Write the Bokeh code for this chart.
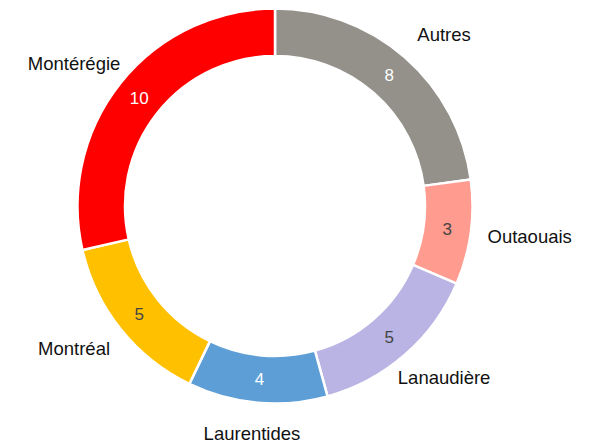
import numpy as np
from bokeh.plotting import figure
from bokeh.models import ColumnDataSource, Range1d
from bokeh.core.properties import value
from bokeh.embed import file_html
from bokeh.resources import INLINE

# ---- data (clockwise from 12 o'clock) ----
regions = ["Autres", "Outaouais", "Lanaudière", "Laurentides", "Montréal", "Montérégie"]
counts = [8, 3, 5, 4, 5, 10]
colors = ["#93918A", "#FF9B8F", "#B9B4E3", "#5C9ED5", "#FFC000", "#FF0000"]
value_colors = ["#FFFFFF", "#444444", "#444444", "#FFFFFF", "#444444", "#FFFFFF"]

# ---- layout ----
W, H = 592, 445
cx, cy = 274.5, H - 205.5
R_out, R_in = 197.5, 150.0
R_val = (R_out + R_in) / 2
lab_a, lab_b = 257.0, 228.0

vals = np.array(counts, dtype=float)
total = vals.sum()
cum = np.concatenate([[0], np.cumsum(vals)])
cw_start = cum[:-1] / total * 2 * np.pi
cw_end = cum[1:] / total * 2 * np.pi
cw_mid = (cw_start + cw_end) / 2

start_angle = np.pi / 2 - cw_end
end_angle = np.pi / 2 - cw_start

src = ColumnDataSource(dict(
    region=regions, count=[str(c) for c in counts], color=colors, vcolor=value_colors,
    start=start_angle, end=end_angle,
    vx=cx + R_val * np.sin(cw_mid), vy=cy + R_val * np.cos(cw_mid),
    lx=cx + lab_a * np.sin(cw_mid), ly=cy + lab_b * np.cos(cw_mid),
))

p = figure(width=W, height=H, output_backend="svg", toolbar_location=None,
           x_range=Range1d(0, W), y_range=Range1d(0, H), min_border=0,
           background_fill_color="white", border_fill_color="white")
p.axis.visible = False
p.grid.visible = False
p.outline_line_color = None

p.annular_wedge(x=cx, y=cy, inner_radius=R_in, outer_radius=R_out,
                start_angle="start", end_angle="end", fill_color="color",
                line_color="white", line_width=2.5, source=src)

p.text(x="vx", y="vy", text="count", text_color="vcolor", text_align="center",
       text_baseline="middle", text_font=value("Liberation Sans"),
       text_font_size="17px", source=src)

p.text(x="lx", y="ly", text="region", text_color="#111111", text_align="center",
       text_baseline="middle", text_font=value("Liberation Sans"),
       text_font_size="18.5px", source=src)

open("out.html", "w").write(file_html(p, INLINE))
